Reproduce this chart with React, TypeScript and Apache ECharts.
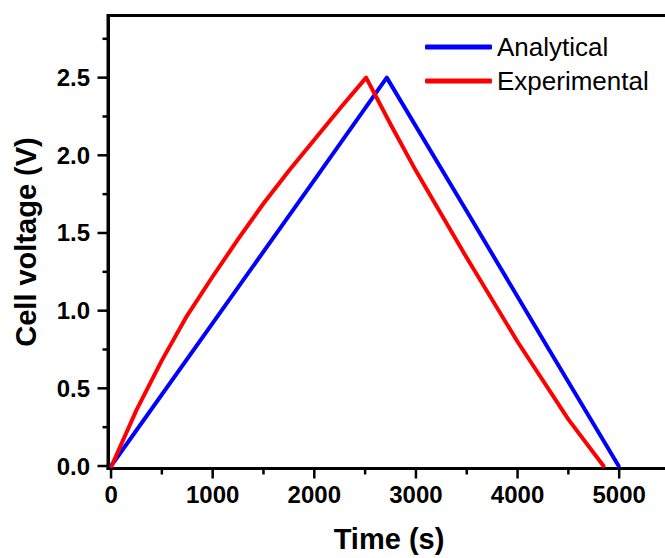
import React, { useEffect, useRef } from "react";
import * as echarts from "echarts";

const analyticalTime = [0, 1000, 2000, 2713, 3500, 4300, 4995];
const analyticalVoltage = [0, 0.92, 1.84, 2.5, 1.64, 0.76, 0];

const experimentalTime = [5, 250, 500, 750, 1000, 1250, 1500, 1750, 2000, 2250, 2510, 2750, 3000, 3500, 4000, 4500, 4846];
const experimentalVoltage = [0, 0.36, 0.68, 0.97, 1.22, 1.46, 1.69, 1.9, 2.1, 2.3, 2.5, 2.2, 1.9, 1.34, 0.8, 0.3, 0];

const xMajorTicks = [0, 1000, 2000, 3000, 4000, 5000];
const xMinorTicks = [500, 1500, 2500, 3500, 4500];
const yMajorTicks = [0, 0.5, 1.0, 1.5, 2.0, 2.5];
const yMinorTicks = [0.25, 0.75, 1.25, 1.75, 2.25, 2.75];

const FONT = "'Liberation Sans', Arial, sans-serif";
const X_MIN = -30;
const X_MAX = 5500;
const Y_MIN = -0.016;
const Y_MAX = 2.9;

export default function App() {
  const ref = useRef<HTMLDivElement>(null);
  useEffect(() => {
    document.body.style.margin = "0";
    const chart = echarts.init(ref.current!, null, { renderer: "svg" });
    const pair = (t: number[], v: number[]) => t.map((x, i) => [x, v[i]]);
    const black = "#000";
    const tickData = [
      ...xMajorTicks.map((v) => [v, 0, 10, 0]),
      ...xMinorTicks.map((v) => [v, 0, 6, 0]),
      ...yMajorTicks.map((v) => [0, v, 10.5, 1]),
      ...yMinorTicks.map((v) => [0, v, 5.5, 1]),
    ];
    chart.setOption({
      animation: false,
      backgroundColor: "#fff",
      grid: {
        left: 108,
        right: -5,
        top: 15.5,
        bottom: 89.5,
        show: true,
        borderColor: black,
        borderWidth: 3,
        backgroundColor: "transparent",
        outerBoundsMode: "none",
        containLabel: false,
      },
      legend: {
        orient: "vertical",
        left: 425,
        top: 32,
        padding: 0,
        itemWidth: 67,
        itemHeight: 5,
        itemGap: 4,
        icon: "roundRect",
        textStyle: { fontFamily: FONT, fontSize: 26, color: black, lineHeight: 30 },
        data: ["Analytical", "Experimental"],
      },
      xAxis: {
        type: "value",
        min: X_MIN,
        max: X_MAX,
        name: "Time (s)",
        nameLocation: "middle",
        nameGap: 56,
        nameTextStyle: { fontFamily: FONT, fontSize: 29, fontWeight: "bold", color: black },
        axisLine: { show: true, onZero: false, lineStyle: { color: black, width: 3 } },
        axisTick: { show: false },
        axisLabel: {
          customValues: xMajorTicks,
          margin: 14,
          fontFamily: FONT,
          fontSize: 24,
          fontWeight: "bold",
          color: black,
          formatter: (v: number) => String(v),
        },
        splitLine: { show: false },
      },
      yAxis: {
        type: "value",
        min: Y_MIN,
        max: Y_MAX,
        name: "Cell voltage (V)",
        nameLocation: "middle",
        nameGap: 68,
        nameTextStyle: { fontFamily: FONT, fontSize: 29, fontWeight: "bold", color: black },
        axisLine: { show: true, onZero: false, lineStyle: { color: black, width: 3 } },
        axisTick: { show: false },
        axisLabel: {
          customValues: yMajorTicks,
          margin: 18,
          fontFamily: FONT,
          fontSize: 24,
          fontWeight: "bold",
          color: black,
          formatter: (v: number) => v.toFixed(1),
        },
        splitLine: { show: false },
      },
      series: [
        {
          name: "ticks",
          type: "custom",
          silent: true,
          clip: false,
          z: 10,
          data: tickData,
          renderItem: (params: any, api: any) => {
            const len = api.value(2);
            const orient = api.value(3);
            if (orient === 0) {
              const p = api.coord([api.value(0), Y_MIN]);
              return {
                type: "line",
                shape: { x1: p[0], y1: p[1], x2: p[0], y2: p[1] + len },
                style: { stroke: black, lineWidth: 2.5 },
              };
            }
            const p = api.coord([X_MIN, api.value(1)]);
            return {
              type: "line",
              shape: { x1: p[0] - len, y1: p[1], x2: p[0], y2: p[1] },
              style: { stroke: black, lineWidth: 2.5 },
            };
          },
        },
        {
          name: "Analytical",
          type: "line",
          data: pair(analyticalTime, analyticalVoltage),
          symbol: "none",
          lineStyle: { color: "#0000FF", width: 4, cap: "round", join: "round" },
          itemStyle: { color: "#0000FF" },
        },
        {
          name: "Experimental",
          type: "line",
          data: pair(experimentalTime, experimentalVoltage),
          symbol: "none",
          lineStyle: { color: "#FF0000", width: 4, cap: "round", join: "round" },
          itemStyle: { color: "#FF0000" },
        },
      ],
    });
    return () => chart.dispose();
  }, []);
  return <div ref={ref} style={{ width: 665, height: 558 }} />;
}
